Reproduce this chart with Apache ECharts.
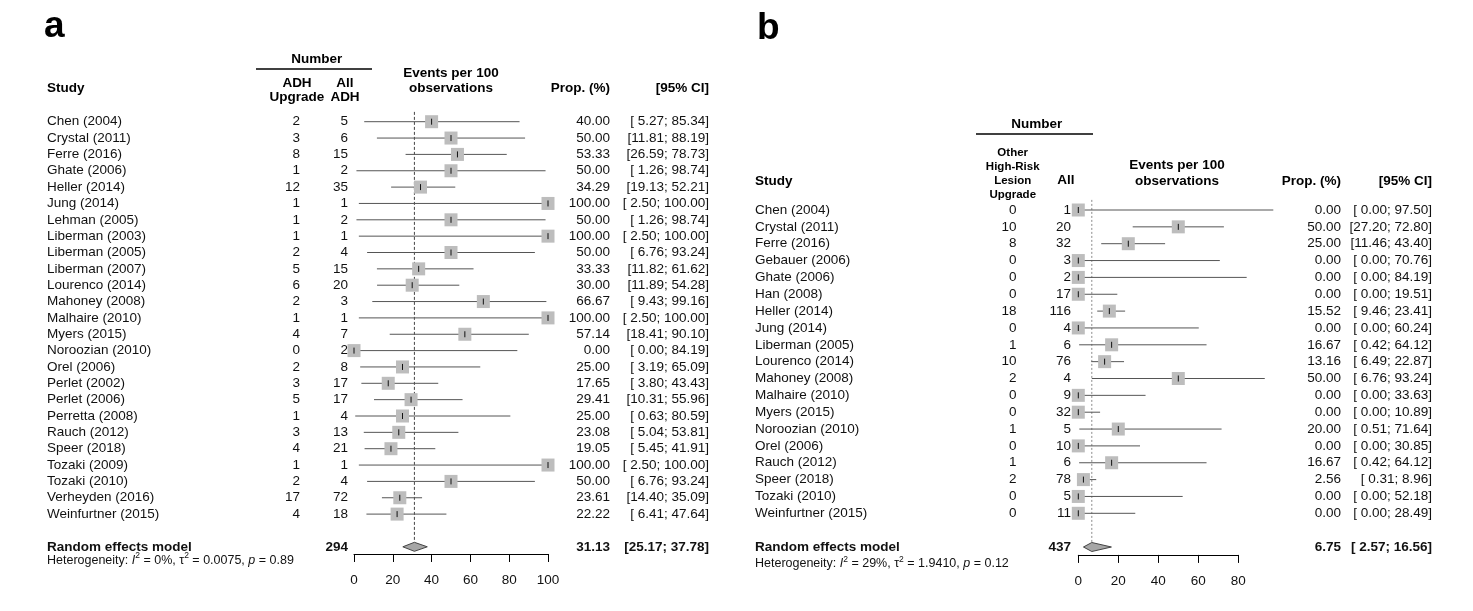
<!DOCTYPE html>
<html><head><meta charset="utf-8">
<script src="https://cdn.jsdelivr.net/npm/echarts@6/dist/echarts.min.js"></script>
<style>html,body{margin:0;padding:0;background:#fff}#c{width:1473px;height:611px}</style>
</head><body><div id="c"></div><script>
// ---------- Panel a: ADH upgrade ----------
const studiesA = ['Chen (2004)','Crystal (2011)','Ferre (2016)','Ghate (2006)','Heller (2014)','Jung (2014)','Lehman (2005)','Liberman (2003)','Liberman (2005)','Liberman (2007)','Lourenco (2014)','Mahoney (2008)','Malhaire (2010)','Myers (2015)','Noroozian (2010)','Orel (2006)','Perlet (2002)','Perlet (2006)','Perretta (2008)','Rauch (2012)','Speer (2018)','Tozaki (2009)','Tozaki (2010)','Verheyden (2016)','Weinfurtner (2015)'];
const eventsA = [2,3,8,1,12,1,1,1,2,5,6,2,1,4,0,2,3,5,1,3,4,1,2,17,4];
const totalA  = [5,6,15,2,35,1,2,1,4,15,20,3,1,7,2,8,17,17,4,13,21,1,4,72,18];
const propA   = [40.00,50.00,53.33,50.00,34.29,100.00,50.00,100.00,50.00,33.33,30.00,66.67,100.00,57.14,0.00,25.00,17.65,29.41,25.00,23.08,19.05,100.00,50.00,23.61,22.22];
const lowerA  = [5.27,11.81,26.59,1.26,19.13,2.50,1.26,2.50,6.76,11.82,11.89,9.43,2.50,18.41,0.00,3.19,3.80,10.31,0.63,5.04,5.45,2.50,6.76,14.40,6.41];
const upperA  = [85.34,88.19,78.73,98.74,52.21,100.00,98.74,100.00,93.24,61.62,54.28,99.16,100.00,90.10,84.19,65.09,43.43,55.96,80.59,53.81,41.91,100.00,93.24,35.09,47.64];
const pooledA = [31.13, 25.17, 37.78];   // estimate, lower, upper
const pooledNA = 294;
const hetA = ['0%', '0.0075', '0.89'];   // I2, tau2, p
const ticksA = [0, 20, 40, 60, 80, 100];

// ---------- Panel b: other high-risk lesion upgrade ----------
const studiesB = ['Chen (2004)','Crystal (2011)','Ferre (2016)','Gebauer (2006)','Ghate (2006)','Han (2008)','Heller (2014)','Jung (2014)','Liberman (2005)','Lourenco (2014)','Mahoney (2008)','Malhaire (2010)','Myers (2015)','Noroozian (2010)','Orel (2006)','Rauch (2012)','Speer (2018)','Tozaki (2010)','Weinfurtner (2015)'];
const eventsB = [0,10,8,0,0,0,18,0,1,10,2,0,0,1,0,1,2,0,0];
const totalB  = [1,20,32,3,2,17,116,4,6,76,4,9,32,5,10,6,78,5,11];
const propB   = [0.00,50.00,25.00,0.00,0.00,0.00,15.52,0.00,16.67,13.16,50.00,0.00,0.00,20.00,0.00,16.67,2.56,0.00,0.00];
const lowerB  = [0.00,27.20,11.46,0.00,0.00,0.00,9.46,0.00,0.42,6.49,6.76,0.00,0.00,0.51,0.00,0.42,0.31,0.00,0.00];
const upperB  = [97.50,72.80,43.40,70.76,84.19,19.51,23.41,60.24,64.12,22.87,93.24,33.63,10.89,71.64,30.85,64.12,8.96,52.18,28.49];
const pooledB = [6.75, 2.57, 16.56];
const pooledNB = 437;
const hetB = ['29%', '1.9410', '0.12'];
const ticksB = [0, 20, 40, 60, 80];

// ---------- layout (pixels) ----------
const FONT = '"Liberation Sans", Arial, Helvetica, sans-serif';
const BODY = 13.5;
const layA = {y0:121.7, step:16.35, reRow:26, hetRow:26.84, axisRow:26.44, studyX:47, evX:300, nX:348, plotX:354, plotW:194,
  propX:610, ciX:709, refTop:-0.6, refColor:'#444', refDash:[3,2]};
const layB = {y0:210, step:16.85, reRow:20, hetRow:21.0, axisRow:20.47, studyX:755, evX:1016.5, nX:1071, plotX:1078.3, plotW:160,
  propX:1341, ciX:1432, refTop:-0.6, refColor:'#8a8a8a', refDash:[2,2]};

function ciStrings(lo, hi, pooled) {
  const L = lo.concat([pooled[1]]).map(v => v.toFixed(2));
  const H = hi.concat([pooled[2]]).map(v => v.toFixed(2));
  return L.map((s, i) => '[' + s.padStart(5, ' ') + '; ' + H[i] + ']');
}

const grids = [], xAxes = [], yAxes = [], series = [];

function addGrid(left, width, lay, xa) {
  const top = lay.y0 - lay.step;
  const height = (lay.axisRow + 1) * lay.step;
  grids.push({left: left, top: top, width: width, height: height, containLabel: false});
  xAxes.push(xa || {type:'value', min:0, max:1, show:false, gridIndex: grids.length - 1});
  if (xa) xa.gridIndex = grids.length - 1;
  yAxes.push({type:'value', inverse:true, min:-1, max:lay.axisRow, show:false, gridIndex: grids.length - 1});
  return grids.length - 1;
}

function textColumn(lay, x, align, items) {
  const gi = addGrid(x, 1, lay);
  series.push({
    type:'custom', xAxisIndex:gi, yAxisIndex:gi, silent:true, clip:false, animation:false,
    data: items.map(it => [0, it.row]),
    renderItem: function (params, api) {
      const it = items[params.dataIndex];
      const p = api.coord([0, api.value(1)]);
      const style = {
        text: it.text, x: 0, y: 0,
        fontFamily: FONT, fontSize: it.size || BODY, fontWeight: it.bold ? 'bold' : 'normal',
        fill: '#111', align: align, verticalAlign: 'middle'
      };
      if (it.rich) { style.rich = it.rich; style.lineHeight = it.lineHeight; }
      return {type:'text', x: p[0], y: p[1], style: style};
    }
  });
}

function hetItem(h, row) {
  const s = 12.5;
  return {
    row: row, size: s, lineHeight: 18,
    text: 'Heterogeneity: {i|I}{s|2} = ' + h[0] + ', τ{s|2} = ' + h[1] + ', {i|p} = ' + h[2],
    rich: {
      i: {fontFamily: FONT, fontSize: s, fontStyle: 'italic', fill:'#111', lineHeight: 18},
      s: {fontFamily: FONT, fontSize: 8.5, verticalAlign: 'top', fill:'#111', lineHeight: 9}
    }
  };
}

function buildPanel(lay, studies, ev, tot, prop, lo, hi, pooled, pooledN, het, ticks) {
  const rows = studies.map((_, i) => i);
  const cis = ciStrings(lo, hi, pooled);
  textColumn(lay, lay.studyX, 'left',
    studies.map((s, i) => ({row: i, text: s}))
      .concat([{row: lay.reRow, text: 'Random effects model', bold: true}, hetItem(het, lay.hetRow)]));
  textColumn(lay, lay.evX, 'right', ev.map((v, i) => ({row: i, text: String(v)})));
  textColumn(lay, lay.nX, 'right',
    tot.map((v, i) => ({row: i, text: String(v)})).concat([{row: lay.reRow, text: String(pooledN), bold: true}]));
  textColumn(lay, lay.propX, 'right',
    prop.map((v, i) => ({row: i, text: v.toFixed(2)})).concat([{row: lay.reRow, text: pooled[0].toFixed(2), bold: true}]));
  textColumn(lay, lay.ciX, 'right',
    cis.map((s, i) => ({row: i < studies.length ? i : lay.reRow, text: s, bold: i >= studies.length})));

  // plot region
  const xa = {
    type:'value', min: ticks[0], max: ticks[ticks.length - 1], interval: ticks[1] - ticks[0],
    axisLine: {show:true, onZero:false, lineStyle:{color:'#000', width:1}},
    axisTick: {show:true, inside:false, length:8, lineStyle:{color:'#000', width:1}},
    axisLabel: {show:true, color:'#111', fontFamily: FONT, fontSize: BODY, margin: 19, showMinLabel:true, showMaxLabel:true},
    splitLine: {show:false}
  };
  const gi = addGrid(lay.plotX, lay.plotW, lay, xa);

  // reference (dashed) line at pooled estimate
  series.push({
    type:'custom', xAxisIndex:gi, yAxisIndex:gi, silent:true, clip:false, animation:false, z:1,
    data: [[pooled[0], lay.refTop, lay.reRow - 0.3]],
    renderItem: function (params, api) {
      const a = api.coord([api.value(0), api.value(1)]);
      const b = api.coord([api.value(0), api.value(2)]);
      return {type:'line', shape:{x1:a[0], y1:a[1], x2:b[0], y2:b[1]},
        style:{stroke: lay.refColor, lineWidth:1, lineDash: lay.refDash}};
    }
  });

  // study CIs and squares
  series.push({
    type:'custom', xAxisIndex:gi, yAxisIndex:gi, silent:true, clip:false, animation:false, z:2,
    data: rows.map(i => [prop[i], lo[i], hi[i], i]),
    renderItem: function (params, api) {
      const y = api.coord([0, api.value(3)])[1];
      const xe = api.coord([api.value(0), 0])[0];
      const xl = api.coord([api.value(1), 0])[0];
      const xh = api.coord([api.value(2), 0])[0];
      return {type:'group', children:[
        {type:'line', shape:{x1:xl, y1:y, x2:xh, y2:y}, style:{stroke:'#555', lineWidth:1}},
        {type:'rect', shape:{x:xe - 6.5, y:y - 6.5, width:13, height:13}, style:{fill:'#bdbdbd'}},
        {type:'line', shape:{x1:xe, y1:y - 3, x2:xe, y2:y + 3}, style:{stroke:'#111', lineWidth:1}}
      ]};
    }
  });

  // pooled diamond
  series.push({
    type:'custom', xAxisIndex:gi, yAxisIndex:gi, silent:true, clip:false, animation:false, z:3,
    data: [[pooled[0], pooled[1], pooled[2], lay.reRow]],
    renderItem: function (params, api) {
      const y = api.coord([0, api.value(3)])[1];
      const xe = api.coord([api.value(0), 0])[0];
      const xl = api.coord([api.value(1), 0])[0];
      const xh = api.coord([api.value(2), 0])[0];
      return {type:'polygon', shape:{points:[[xl, y], [xe, y - 4.5], [xh, y], [xe, y + 4.5]]},
        style:{fill:'#a6a6a6', stroke:'#444', lineWidth:1}};
    }
  });
}

buildPanel(layA, studiesA, eventsA, totalA, propA, lowerA, upperA, pooledA, pooledNA, hetA, ticksA);
buildPanel(layB, studiesB, eventsB, totalB, propB, lowerB, upperB, pooledB, pooledNB, hetB, ticksB);

// ---------- headers ----------
function T(text, x, y, align, size, bold) {
  return {type:'text', x:x, y:y, silent:true,
    style:{text:text, fontFamily:FONT, fontSize:size, fontWeight: bold ? 'bold' : 'normal', fill:'#000',
      align:align, verticalAlign:'middle', textAlign:align, textVerticalAlign:'middle'}};
}
function L(x1, y, x2) {
  return {type:'line', silent:true, shape:{x1:x1, y1:y, x2:x2, y2:y}, style:{stroke:'#000', lineWidth:1.3}};
}
const H = 13.5;
const graphics = [
  T('a', 44, 27, 'left', 37, true),
  T('Number', 316.7, 59, 'center', H, true), L(256, 69, 372),
  T('ADH', 297, 83.5, 'center', H, true), T('Upgrade', 297, 97.5, 'center', H, true),
  T('All', 345, 83.5, 'center', H, true), T('ADH', 345, 97.5, 'center', H, true),
  T('Events per 100', 451, 73.5, 'center', H, true), T('observations', 451, 88.5, 'center', H, true),
  T('Study', 47, 88, 'left', H, true),
  T('Prop. (%)', 610, 88, 'right', H, true),
  T('[95% CI]', 709, 88, 'right', H, true),

  T('b', 757, 29, 'left', 37, true),
  T('Number', 1036.7, 124, 'center', H, true), L(976, 134, 1093),
  T('Other', 1012.7, 152.7, 'center', 11.5, true), T('High-Risk', 1012.7, 166.7, 'center', 11.5, true),
  T('Lesion', 1012.7, 180.7, 'center', 11.5, true), T('Upgrade', 1012.7, 194.5, 'center', 11.5, true),
  T('All', 1066, 180, 'center', H, true),
  T('Events per 100', 1177, 165, 'center', H, true), T('observations', 1177, 181, 'center', H, true),
  T('Study', 755, 181, 'left', H, true),
  T('Prop. (%)', 1341, 181.5, 'right', H, true),
  T('[95% CI]', 1432, 181.5, 'right', H, true)
];

const chart = echarts.init(document.getElementById('c'), null, {renderer:'canvas'});
chart.setOption({
  animation: false,
  backgroundColor: '#fff',
  grid: grids, xAxis: xAxes, yAxis: yAxes, series: series,
  graphic: {elements: graphics}
});
</script></body></html>
